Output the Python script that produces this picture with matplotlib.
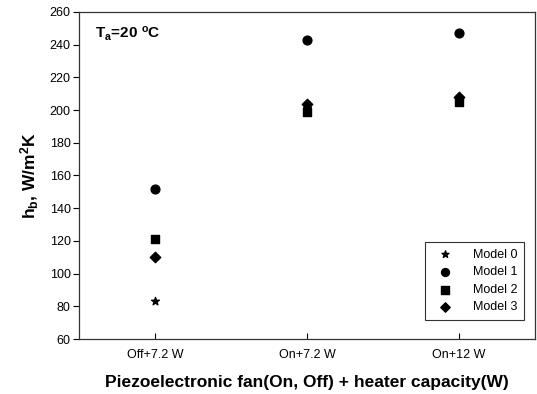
import matplotlib
matplotlib.use("Agg")
import matplotlib.pyplot as plt

plt.rcParams['font.family'] = ['Liberation Sans', 'DejaVu Sans']
plt.rcParams['mathtext.fontset'] = 'custom'
plt.rcParams['mathtext.rm'] = 'Liberation Sans'
plt.rcParams['mathtext.bf'] = 'Liberation Sans:bold'
plt.rcParams['mathtext.it'] = 'Liberation Sans:italic'

categories = ["Off+7.2 W", "On+7.2 W", "On+12 W"]
model0 = [83, 201, 206]
model1 = [151.5, 243, 247]
model2 = [121, 199, 205]
model3 = [110, 203.5, 208]
series_names = ["Model 0", "Model 1", "Model 2", "Model 3"]
yticks = [60, 80, 100, 120, 140, 160, 180, 200, 220, 240, 260]

fig = plt.figure(figsize=(5.37, 3.94), dpi=100)
ax = fig.add_axes([79/537, 1-339/394, (535-79)/537, (339-12)/394])

x = range(len(categories))
ax.scatter(x, model0, marker='*', s=34, color='black', label=series_names[0], zorder=3)
ax.scatter(x, model1, marker='o', s=40, color='black', label=series_names[1], zorder=3)
ax.scatter(x, model2, marker='s', s=34, color='black', label=series_names[2], zorder=3)
ax.scatter(x, model3, marker='D', s=28, color='black', label=series_names[3], zorder=3)

ax.set_xlim(-0.5, 2.5)
ax.set_ylim(60, 260)
ax.set_yticks(yticks)
ax.set_xticks(list(x))
ax.set_xticklabels(categories)
ax.tick_params(axis='y', direction='out', length=4, labelsize=9, width=0.8, pad=2)
ax.tick_params(axis='x', direction='in', length=4, labelsize=9, width=0.8, pad=7)
for s in ax.spines.values():
    s.set_linewidth(0.9)
    s.set_color('#333333')

ax.set_xlabel("Piezoelectronic fan(On, Off) + heater capacity(W)", fontsize=12.5,
              fontweight='bold', labelpad=10)
ax.set_ylabel(r"$\mathbf{h_b}$, W/m$\mathbf{^2}$K", fontsize=12.5, fontweight='bold', labelpad=6)
ax.text(0.035, 0.96, r"$\mathbf{T_a}$=20 $\mathbf{^o}$C", transform=ax.transAxes,
        fontsize=11, fontweight='bold', va='top', ha='left')

leg = ax.legend(loc='lower right', bbox_to_anchor=(0.99, 0.04), fontsize=9,
                frameon=True, fancybox=False, edgecolor='black', markerfirst=True,
                handletextpad=1.2, handlelength=2.2, borderpad=0.5, labelspacing=0.45,
                markerscale=0.9)
leg.get_frame().set_linewidth(0.8)

fig.savefig("out.png", dpi=100)
